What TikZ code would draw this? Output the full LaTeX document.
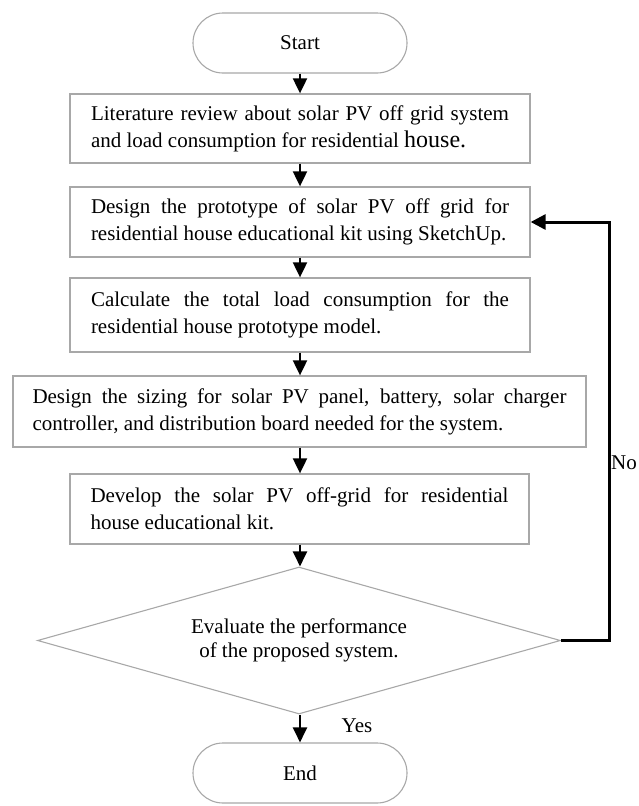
\documentclass[tikz,border=0pt]{standalone}
\usepackage{fontspec}
\setmainfont{Liberation Serif}
\usetikzlibrary{shapes.geometric,arrows.meta}
\definecolor{boxgray}{HTML}{A8A8A8}
\begin{document}
\begin{tikzpicture}[x=1pt,y=-1pt,
  stepbox/.style={draw=boxgray, line width=1.3pt, rectangle, inner xsep=0pt, inner ysep=0pt,
    align=justify, font=\fontsize{21}{27}\selectfont},
  term/.style={draw=boxgray, line width=1.1pt, rectangle, rounded corners=30pt,
    minimum width=214pt, minimum height=60pt, font=\fontsize{21}{25}\selectfont},
  decision/.style={draw=boxgray, line width=1.1pt, diamond, aspect=3.56, inner sep=0pt,
    minimum width=523pt, minimum height=147pt, align=center, font=\fontsize{21}{24}\selectfont},
  arr/.style={line width=2pt, -{Triangle[length=15pt,width=14pt]}},
  fb/.style={line width=3pt, -{Triangle[length=15pt,width=15pt]}},
  lbl/.style={font=\fontsize{21}{25}\selectfont, inner sep=0pt}
]
\useasboundingbox (0,0) rectangle (638,806);

\node[term] (start) at (300,43) {Start};

\node[stepbox, minimum width=460pt, minimum height=69pt, text width=418pt] (b1) at (300,128.5)
  {Literature review about solar PV off grid system\linebreak and load consumption for residential {\fontsize{24}{27}\selectfont house.}};

\node[stepbox, minimum width=460pt, minimum height=70pt, text width=418pt] (b2) at (300,222)
  {Design the prototype of solar PV off grid for\linebreak residential house educational kit using SketchUp.};

\node[stepbox, minimum width=460pt, minimum height=74pt, text width=418pt] (b3) at (300,315)
  {Calculate the total load consumption for the\linebreak residential house prototype model.};

\node[stepbox, minimum width=573pt, minimum height=71pt, text width=534pt] (b4) at (299.5,411.5)
  {Design the sizing for solar PV panel, battery, solar charger\linebreak controller, and distribution board needed for the system.};

\node[stepbox, minimum width=459pt, minimum height=70pt, text width=418pt] (b5) at (299.5,509)
  {Develop the solar PV off-grid for residential\linebreak house educational kit.};

\node[decision] (eval) at (299,640.5) {Evaluate the performance\\of the proposed system.};

\node[term] (end) at (300,773) {End};

\draw[arr] (start.south) -- (start.south |- b1.north);
\draw[arr] (b1.south) -- (b2.north);
\draw[arr] (b2.south) -- (b3.north);
\draw[arr] (b3.south) -- (b3.south |- b4.north);
\draw[arr] (b3.south |- b4.south) -- (b3.south |- b5.north);
\draw[arr] (b3.south |- b5.south) -- (b3.south |- eval.north);
\draw[arr] (b3.south |- eval.south) -- (end.north);

\draw[fb] (eval.east) -- ++(48,0) |- (b2.east);

\node[lbl, anchor=west] (no) at (611,463) {No};
\node[lbl] (yes) at (357,726) {Yes};
\end{tikzpicture}
\end{document}
